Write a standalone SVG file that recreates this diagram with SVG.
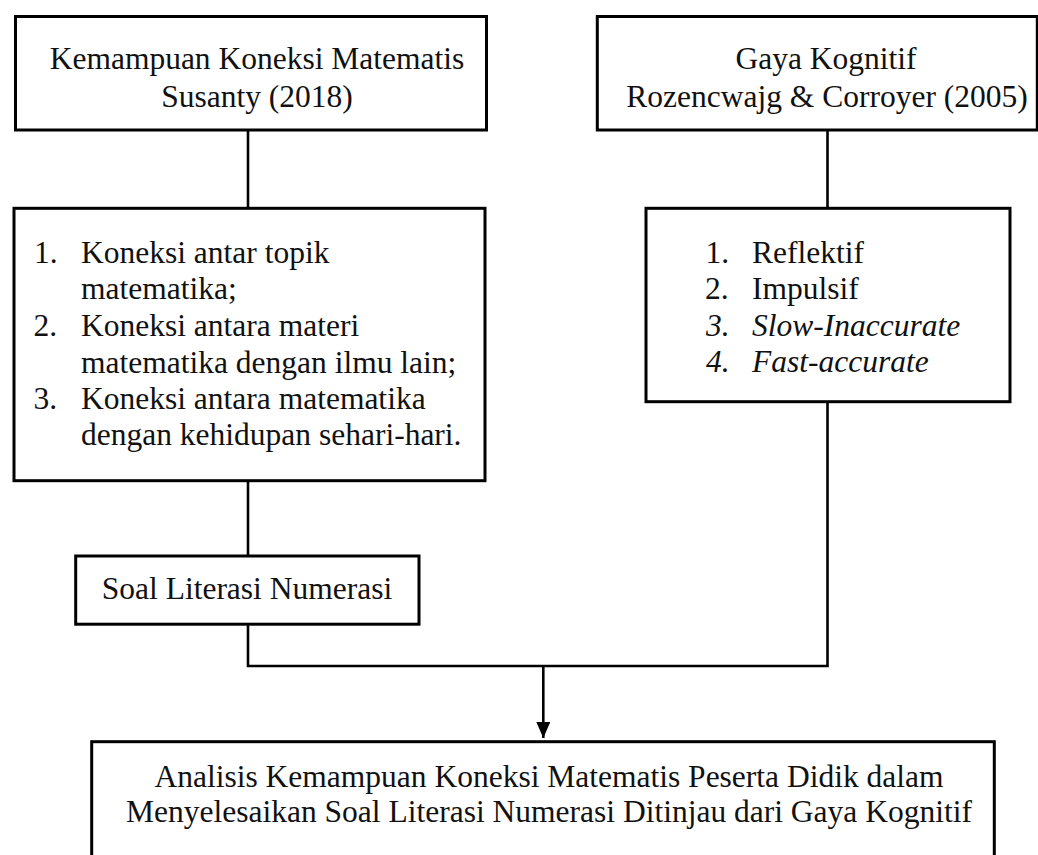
<svg xmlns="http://www.w3.org/2000/svg" width="1038" height="855" viewBox="0 0 1038 855">
<defs>
<style>
.box{fill:#fff;stroke:#000;stroke-width:3}
.line{fill:none;stroke:#000;stroke-width:2.6}
text{font-family:"Liberation Serif","Times New Roman",serif;font-size:31.5px;fill:#111}
.c{text-anchor:middle}
.i{font-style:italic}
</style>
<marker id="arr" viewBox="0 0 16 14" refX="16" refY="7" markerWidth="16" markerHeight="14" markerUnits="userSpaceOnUse" orient="auto">
<path d="M0,0 L16,7 L0,14 Z" fill="#000"/>
</marker>
</defs>
<rect width="1038" height="855" fill="#fff"/>
<g id="connectors">
<line class="line" x1="248" y1="130" x2="248" y2="208"/>
<line class="line" x1="827.5" y1="130" x2="827.5" y2="208"/>
<line class="line" x1="248" y1="481" x2="248" y2="556"/>
<polyline class="line" points="248,624 248,666 827.5,666 827.5,402"/>
<line class="line" x1="543.3" y1="666" x2="543.3" y2="738" marker-end="url(#arr)"/>
</g>
<g id="node-koneksi">
<rect class="box" x="15.5" y="16.5" width="471" height="113.5"/>
<text class="c" x="257" y="68.5">Kemampuan Koneksi Matematis</text>
<text class="c" x="257" y="106.5">Susanty (2018)</text>
</g>
<g id="node-gaya">
<rect class="box" x="597.3" y="16.5" width="440" height="113.5"/>
<text class="c" x="826" y="69">Gaya Kognitif</text>
<text class="c" x="827" y="107">Rozencwajg &amp; Corroyer (2005)</text>
</g>
<g id="node-indikator">
<rect class="box" x="14" y="208.3" width="471" height="272.4"/>
<text x="34" y="262.7">1.</text>
<text x="81" y="262.7">Koneksi antar topik</text>
<text x="81" y="299.3">matematika;</text>
<text x="33.5" y="336">2.</text>
<text x="81" y="336">Koneksi antara materi</text>
<text x="81" y="372.7">matematika dengan ilmu lain;</text>
<text x="33.5" y="408.5">3.</text>
<text x="81" y="408.5">Koneksi antara matematika</text>
<text x="81" y="445">dengan kehidupan sehari-hari.</text>
</g>
<g id="node-tipe">
<rect class="box" x="646" y="208.3" width="364" height="193.4"/>
<text x="705.5" y="262.7">1.</text>
<text x="752" y="262.7">Reflektif</text>
<text x="705" y="299.3">2.</text>
<text x="752" y="299.3">Impulsif</text>
<text class="i" x="706" y="335.7">3.</text>
<text class="i" x="752" y="335.7">Slow-Inaccurate</text>
<text class="i" x="706" y="371.8">4.</text>
<text class="i" x="752" y="371.8">Fast-accurate</text>
</g>
<g id="node-soal">
<rect class="box" x="75.7" y="556" width="343.3" height="68.2"/>
<text class="c" x="247" y="599.3">Soal Literasi Numerasi</text>
</g>
<g id="node-analisis">
<rect class="box" x="91.7" y="741.7" width="902.6" height="130"/>
<text class="c" x="549" y="787">Analisis Kemampuan Koneksi Matematis Peserta Didik dalam</text>
<text class="c" x="549" y="822">Menyelesaikan Soal Literasi Numerasi Ditinjau dari Gaya Kognitif</text>
</g>
</svg>
